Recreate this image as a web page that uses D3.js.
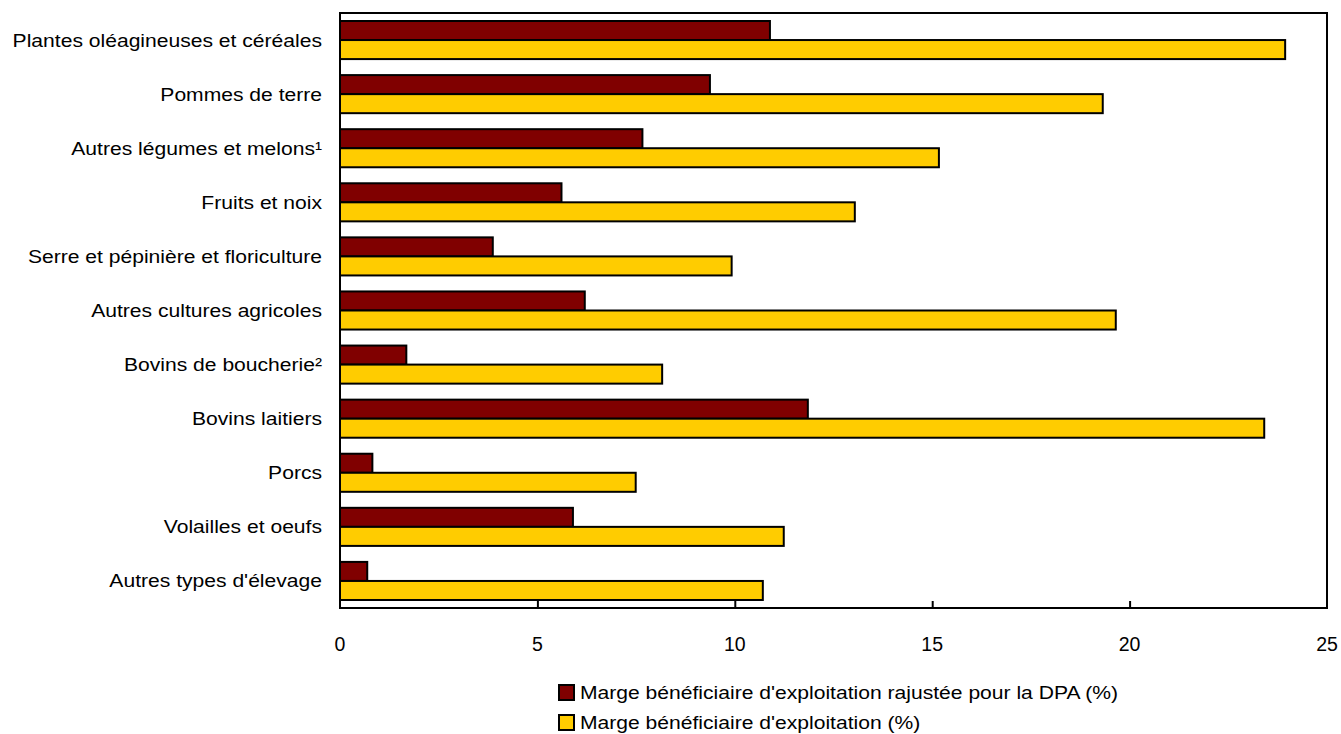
<!DOCTYPE html>
<html><head><meta charset="utf-8">
<script src="https://cdn.jsdelivr.net/npm/d3@7"></script>
<style>html,body{margin:0;padding:0;background:#fff;}</style>
</head><body>
<svg id="chart" width="1341" height="734"></svg>
<script>
const categories = ["Plantes oléagineuses et céréales","Pommes de terre","Autres légumes et melons¹","Fruits et noix","Serre et pépinière et floriculture","Autres cultures agricoles","Bovins de boucherie²","Bovins laitiers","Porcs","Volailles et oeufs","Autres types d'élevage"];
const seriesNames = ["Marge bénéficiaire d'exploitation rajustée pour la DPA (%)","Marge bénéficiaire d'exploitation (%)"];
const margeDPA = [10.89, 9.37, 7.66, 5.61, 3.87, 6.20, 1.68, 11.85, 0.82, 5.90, 0.69];
const marge = [23.94, 19.32, 15.17, 13.04, 9.92, 19.65, 8.16, 23.41, 7.49, 11.24, 10.71];
const xTicks = [0, 5, 10, 15, 20, 25];
const colors = ["#800000", "#FFCC00"];

(function () {
const svg = d3.select("#chart");
const pLeft = 340, pRight = 1327, pTop = 13, pBottom = 608;
const FONT = "'Liberation Sans', Arial, sans-serif";
const SX = 1.14;

const x = d3.scaleLinear().domain([0, 25]).range([pLeft, pRight]);
const y = d3.scaleBand().domain(categories).range([pTop, pBottom]).paddingInner(0.296).paddingOuter(0.148);
const ys = d3.scaleBand().domain([0, 1]).range([0, y.bandwidth()]);

const data = categories.map((c, i) => ({c, v: [margeDPA[i], marge[i]]}));

// bars
const g = svg.append("g");
data.forEach(d => {
  d.v.forEach((v, s) => {
    g.append("rect")
      .attr("x", x(0))
      .attr("y", y(d.c) + ys(s))
      .attr("width", x(v) - x(0))
      .attr("height", ys.bandwidth())
      .attr("fill", colors[s])
      .attr("stroke", "#000")
      .attr("stroke-width", 2);
  });
});

// frame
svg.append("rect").attr("x", pLeft).attr("y", pTop).attr("width", pRight - pLeft).attr("height", pBottom - pTop)
  .attr("fill", "none").attr("stroke", "#000").attr("stroke-width", 2);

// x axis ticks (inside)
const xAxis = d3.axisTop(x).tickValues(xTicks.slice(1, -1)).tickSize(7).tickFormat("");
svg.append("g").attr("transform", `translate(0,${pBottom})`).call(xAxis)
  .call(a => a.select(".domain").remove())
  .call(a => a.selectAll("line").attr("stroke", "#000").attr("stroke-width", 2));

// x tick labels
svg.append("g").selectAll("text").data(xTicks).join("text")
  .attr("x", d => x(d)).attr("y", 651)
  .attr("text-anchor", "middle")
  .style("font-family", FONT).style("font-size", "19.5px").attr("fill", "#000")
  .text(d => d);

// category labels
svg.append("g").selectAll("text").data(categories).join("text")
  .attr("transform", d => `translate(322,${y(d) + y.bandwidth() / 2}) scale(${SX},1)`)
  .attr("dy", "0.35em")
  .attr("text-anchor", "end")
  .style("font-family", FONT).style("font-size", "18.5px").attr("fill", "#000")
  .text(d => d);

// legend
const leg = svg.append("g");
seriesNames.forEach((n, i) => {
  const cy = 693 + i * 30;
  leg.append("rect").attr("x", 559).attr("y", cy - 8).attr("width", 15).attr("height", 15)
    .attr("fill", colors[i]).attr("stroke", "#000").attr("stroke-width", 2);
  leg.append("text")
    .attr("transform", `translate(580,${cy}) scale(${SX},1)`)
    .attr("dy", "0.35em")
    .style("font-family", FONT).style("font-size", "18.5px").attr("fill", "#000")
    .text(n);
});
})();
</script>
</body></html>
